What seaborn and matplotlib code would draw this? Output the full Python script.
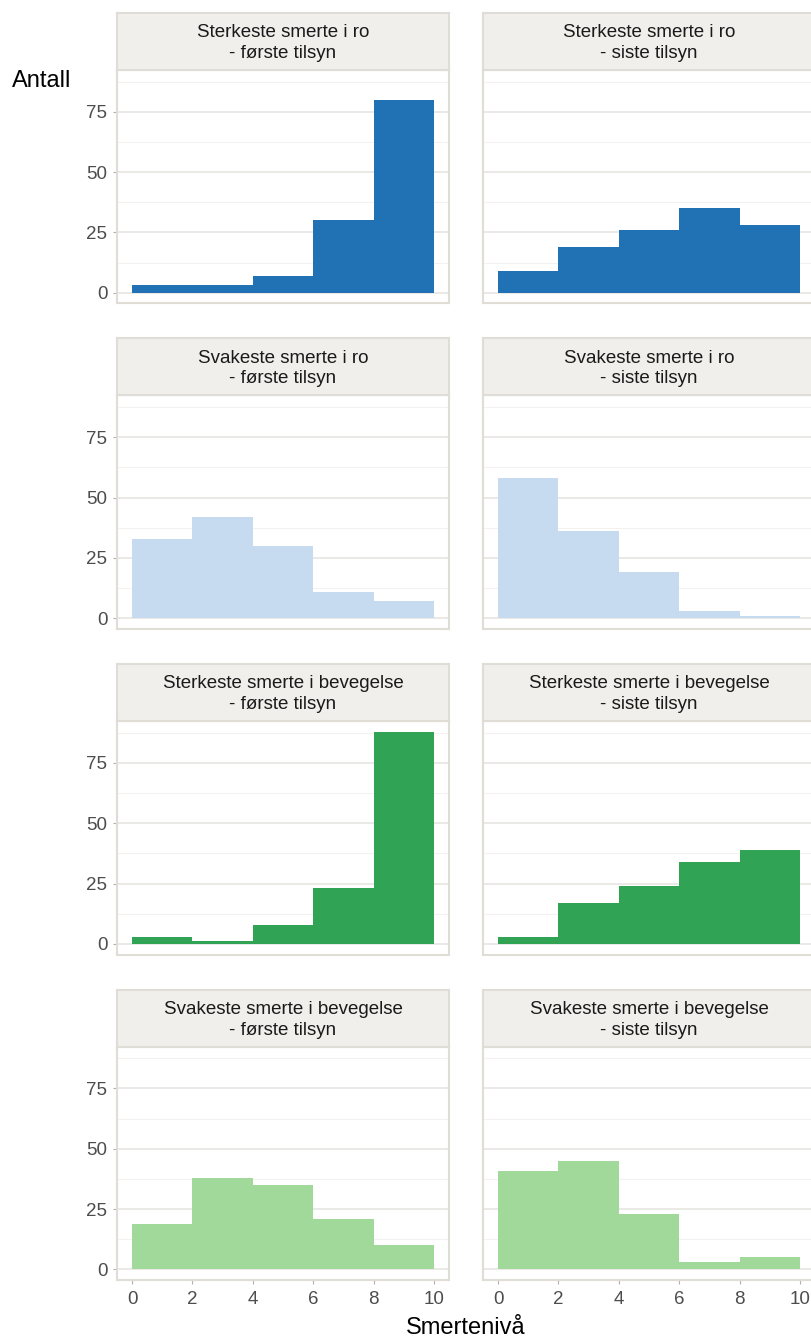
import numpy as np
import pandas as pd
import matplotlib
matplotlib.use("Agg")
import matplotlib.pyplot as plt
import seaborn as sns

# Pain level bins (0-10 scale, width 2)
bin_edges = [0, 2, 4, 6, 8, 10]
bin_mids = [1, 3, 5, 7, 9]

measures = [
    "Sterkeste smerte i ro",
    "Svakeste smerte i ro",
    "Sterkeste smerte i bevegelse",
    "Svakeste smerte i bevegelse",
]
visits = ["- første tilsyn", "- siste tilsyn"]

# Counts per bin
sterk_ro_forste = [3, 3, 7, 30, 80]
sterk_ro_siste = [9, 19, 26, 35, 28]
svak_ro_forste = [33, 42, 30, 11, 7]
svak_ro_siste = [58, 36, 19, 3, 1]
sterk_bev_forste = [3, 1, 8, 23, 88]
sterk_bev_siste = [3, 17, 24, 34, 39]
svak_bev_forste = [19, 38, 35, 21, 10]
svak_bev_siste = [41, 45, 23, 3, 5]

counts = [
    [sterk_ro_forste, sterk_ro_siste],
    [svak_ro_forste, svak_ro_siste],
    [sterk_bev_forste, sterk_bev_siste],
    [svak_bev_forste, svak_bev_siste],
]

row_colors = ["#2171b5", "#c6dbef", "#31a354", "#a1d99b"]

y_major = [0, 25, 50, 75]
y_minor = [12.5, 37.5, 62.5, 87.5]
x_ticks = [0, 2, 4, 6, 8, 10]

rows = []
for i, m in enumerate(measures):
    for j, v in enumerate(visits):
        for mid, c in zip(bin_mids, counts[i][j]):
            rows.append({"measure": m, "visit": v, "level": mid, "n": c})
df = pd.DataFrame(rows)

sns.set_theme(style="white")
plt.rcParams["font.family"] = ["Liberation Sans", "DejaVu Sans"]

W, H = 812, 1338
fig = plt.figure(figsize=(W / 100, H / 100), dpi=100, facecolor="white")

border = "#e0ddd6"
strip_fill = "#f0efec"
ymax = max(max(max(a) for a in r) for r in counts)
ylo, yhi = -0.05 * ymax, ymax * 1.05

col_x = [117, 483]
panel_w = 332
pitch = 325.6


def px_axes(x0, y0, x1, y1):
    return fig.add_axes([x0 / W, 1 - y1 / H, (x1 - x0) / W, (y1 - y0) / H])


for i, m in enumerate(measures):
    top = 69.7 + pitch * i
    bot = 303.3 + pitch * i
    stop = 12.7 + pitch * i
    for j, v in enumerate(visits):
        x0 = col_x[j]
        ax = px_axes(x0, top, x0 + panel_w, bot)
        sub = df[(df.measure == m) & (df.visit == v)]
        sns.histplot(data=sub, x="level", weights="n", bins=bin_edges,
                     color=row_colors[i], alpha=1, linewidth=0,
                     edgecolor="none", ax=ax)
        ax.set_xlim(-0.5, 10.5)
        ax.set_ylim(ylo, yhi)
        ax.set_xlabel("")
        ax.set_ylabel("")
        ax.set_yticks(y_major)
        ax.set_yticks(y_minor, minor=True)
        ax.set_xticks(x_ticks)
        ax.yaxis.grid(True, which="major", color="#e6e3de", lw=1.1)
        ax.yaxis.grid(True, which="minor", color="#f3f2ef", lw=0.8)
        ax.xaxis.grid(False)
        ax.set_axisbelow(True)
        for s in ax.spines.values():
            s.set_color(border)
            s.set_linewidth(1.5)
            s.set_zorder(5)
        ax.tick_params(axis="both", which="minor", length=0)
        ax.tick_params(axis="both", which="major", length=3, width=0.8,
                       color="#b5b1aa", labelsize=13.5, labelcolor="#4d4d4d")
        ax.tick_params(axis="y", pad=4)
        ax.tick_params(axis="x", pad=5)
        if j == 1:
            ax.tick_params(axis="y", left=False, labelleft=False)
        else:
            ax.tick_params(axis="y", left=True, labelleft=True)
        if i < len(measures) - 1:
            ax.tick_params(axis="x", bottom=False, labelbottom=False)
        else:
            ax.tick_params(axis="x", bottom=True, labelbottom=True)

        sax = px_axes(x0, stop, x0 + panel_w, top)
        sax.set_facecolor(strip_fill)
        sax.set_xticks([])
        sax.set_yticks([])
        for s in sax.spines.values():
            s.set_color(border)
            s.set_linewidth(1.5)
        sax.text(0.5, 0.47, f"{m}\n{v}", ha="center", va="center",
                 fontsize=13.5, color="#1a1a1a", transform=sax.transAxes,
                 linespacing=1.3)

fig.text(12 / W, 1 - 87.3 / H, "Antall", fontsize=17, color="black",
         ha="left", va="baseline")
fig.text(466 / W, 1 - 1334 / H, "Smertenivå", fontsize=17, color="black",
         ha="center", va="baseline")

fig.savefig("out.png", dpi=100)
